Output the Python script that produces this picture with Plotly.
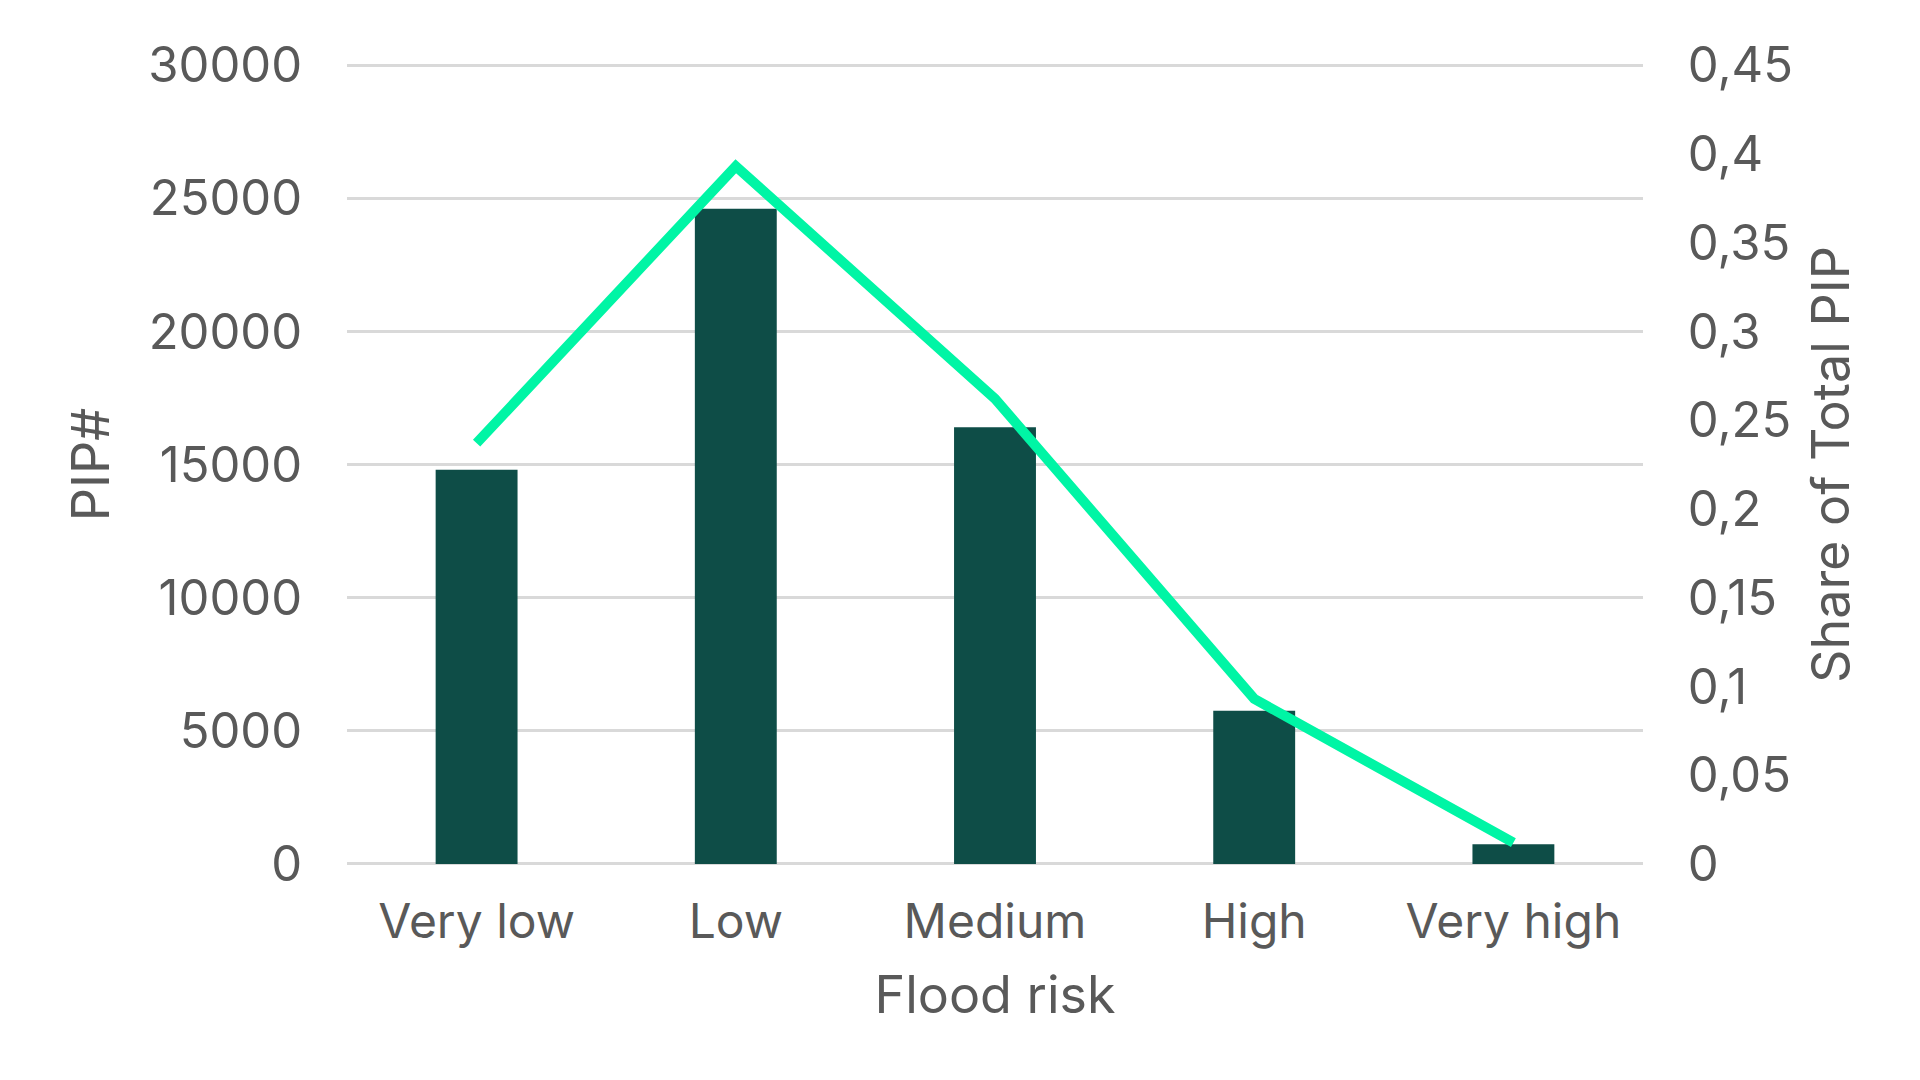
import plotly.graph_objects as go

categories = ["Very low", "Low", "Medium", "High", "Very high"]
pip_counts = [14800, 24600, 16400, 5750, 740]
share_total = [0.237, 0.393, 0.262, 0.093, 0.012]

left_ticks = [0, 5000, 10000, 15000, 20000, 25000, 30000]
right_ticks = [0, 0.05, 0.1, 0.15, 0.2, 0.25, 0.3, 0.35, 0.4, 0.45]

FONT = "Inter"
GREY = "#595959"

fig = go.Figure()
fig.add_trace(go.Bar(
    x=categories, y=pip_counts, marker=dict(color="#0E4D47", line=dict(width=0)),
    yaxis="y", name="PIP#",
))
fig.add_trace(go.Scatter(
    x=categories, y=share_total, mode="lines",
    line=dict(color="#00F5A5", width=10), yaxis="y2", name="Share of Total PIP",
))

fig.update_layout(
    width=1920, height=1080,
    margin=dict(l=339, r=285, t=56, b=223),
    paper_bgcolor="white", plot_bgcolor="white",
    showlegend=False, bargap=0.684,
    separators=",.",
    font=dict(family=FONT, color=GREY, size=49),
    xaxis=dict(
        showgrid=False, zeroline=False, showline=False,
        ticks="outside", ticklen=14, tickcolor="rgba(0,0,0,0)",
        tickfont=dict(size=48, color=GREY, family=FONT),
        title=dict(text="Flood risk", font=dict(size=52, color=GREY, family=FONT), standoff=28),
    ),
    yaxis=dict(
        range=[-40, 30040], tickvals=left_ticks, tickformat="d",
        showgrid=True, gridcolor="#D9D9D9", gridwidth=3,
        zeroline=False, showline=False,
        ticks="outside", ticklen=34, tickcolor="rgba(0,0,0,0)",
        tickfont=dict(size=49, color=GREY, family=FONT),
        title=dict(text="PIP#", font=dict(size=52, color=GREY, family=FONT), standoff=22),
    ),
    yaxis2=dict(
        range=[-0.0006, 0.4506], tickvals=right_ticks, overlaying="y", side="right",
        showgrid=False, zeroline=False, showline=False,
        ticks="outside", ticklen=34, tickcolor="rgba(0,0,0,0)",
        tickfont=dict(size=49, color=GREY, family=FONT),
        title=dict(text="Share of Total PIP", font=dict(size=52, color=GREY, family=FONT), standoff=20),
    ),
)

fig.write_html("out.html")
